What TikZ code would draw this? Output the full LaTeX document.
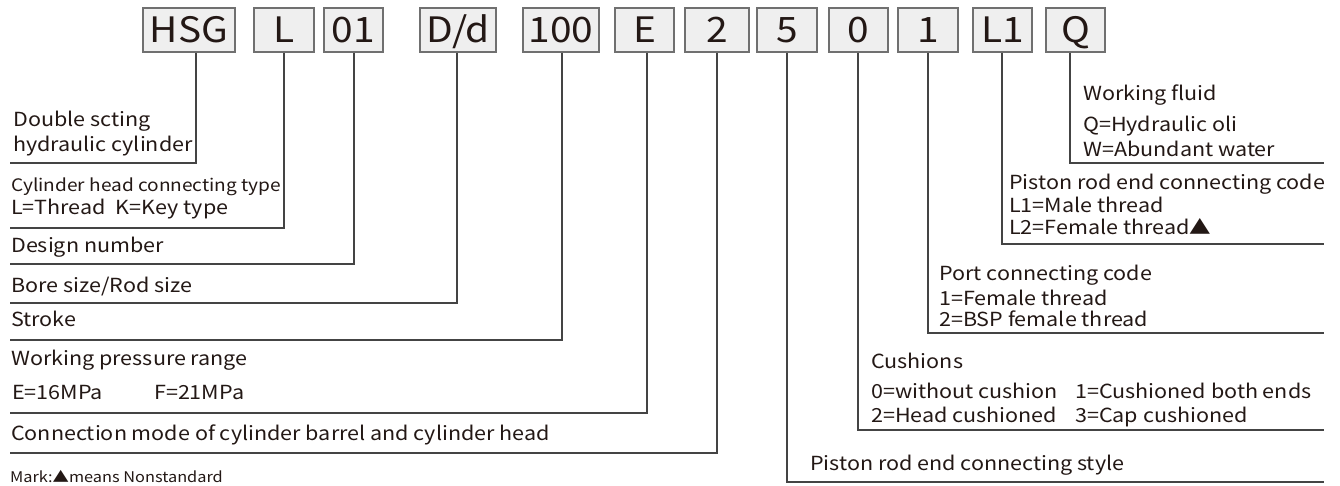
\documentclass[tikz,border=0pt]{standalone}
\usepackage{fontspec}
\setmainfont{Noto Sans CJK SC}[FakeStretch=1.11]
\definecolor{ink}{HTML}{231815}
\definecolor{rule}{HTML}{444444}
\definecolor{boxfill}{HTML}{EFEFEF}
\definecolor{boxline}{HTML}{707070}
\tikzset{
  codebox/.style={draw=boxline, fill=boxfill, line width=1.1pt, inner sep=0pt,
    minimum height=44pt, text height=25pt, text depth=0pt,
    font=\fontsize{35}{35}\selectfont, text=ink},
  lbl/.style={anchor=base west, inner sep=0pt, text=ink, font=\fontsize{19.4}{19.4}\selectfont},
  smalllbl/.style={lbl, font=\fontsize{17.2}{17.2}\selectfont},
  marklbl/.style={lbl, font=\fontsize{14.7}{14.7}\selectfont},
  bracket/.style={draw=rule, line width=1.2pt},
}
\begin{document}
\begin{tikzpicture}[x=1pt,y=-1pt]
\useasboundingbox[fill=white] (0,0) rectangle (1340,486);

% code boxes
\node[codebox, minimum width=92pt] (hsg) at (189,30) {HSG};
\node[codebox, minimum width=60pt] (bl)  at (284,30) {L};
\node[codebox, minimum width=59pt] (b01) at (353.5,30) {01};
\node[codebox, minimum width=76pt] (bdd) at (458,30) {D/d};
\node[codebox, minimum width=76pt] (b100) at (561,30) {100};
\node[codebox, minimum width=59pt] (be)  at (644.5,30) {E};
\node[codebox, minimum width=64pt] (b2)  at (717,30) {2};
\node[codebox, minimum width=60pt] (b5)  at (787,30) {5};
\node[codebox, minimum width=59pt] (b0)  at (858.5,30) {0};
\node[codebox, minimum width=60pt] (b1)  at (928,30) {1};
\node[codebox, minimum width=59pt] (bl1) at (1002.5,30) {L1};
\node[codebox, minimum width=59pt] (bq)  at (1075.5,30) {Q};

% bracket corners and ends (left group)
\coordinate (c1) at (196,163); \coordinate (e1) at (10,163);
\coordinate (c2) at (284,228); \coordinate (e2) at (10,228);
\coordinate (c3) at (354,264); \coordinate (e3) at (10,264);
\coordinate (c4) at (457,303); \coordinate (e4) at (10,303);
\coordinate (c5) at (562,340); \coordinate (e5) at (10,340);
\coordinate (c6) at (647,413); \coordinate (e6) at (10,413);
\coordinate (c7) at (717,453); \coordinate (e7) at (10,453);
% right group
\coordinate (d1) at (1070,163); \coordinate (f1) at (1324,163);
\coordinate (d2) at (1002,244); \coordinate (f2) at (1324,244);
\coordinate (d3) at (928,333);  \coordinate (f3) at (1324,333);
\coordinate (d4) at (858,430);  \coordinate (f4) at (1324,430);
\coordinate (d5) at (787,482);  \coordinate (f5) at (1324,482);

\draw[bracket] (hsg.south -| c1) -- (c1) -- (e1);
\draw[bracket] (bl.south -| c2) -- (c2) -- (e2);
\draw[bracket] (b01.south -| c3) -- (c3) -- (e3);
\draw[bracket] (bdd.south -| c4) -- (c4) -- (e4);
\draw[bracket] (b100.south -| c5) -- (c5) -- (e5);
\draw[bracket] (be.south -| c6) -- (c6) -- (e6);
\draw[bracket] (b2.south -| c7) -- (c7) -- (e7);
\draw[bracket] (bq.south -| d1) -- (d1) -- (f1);
\draw[bracket] (bl1.south -| d2) -- (d2) -- (f2);
\draw[bracket] (b1.south -| d3) -- (d3) -- (f3);
\draw[bracket] (b0.south -| d4) -- (d4) -- (f4);
\draw[bracket] (b5.south -| d5) -- (d5) -- (f5);

% left labels
\node[lbl] (t1a) at (13,127) {Double scting};
\node[lbl] (t1b) at (13,152) {hydraulic cylinder};
\node[smalllbl] (t2a) at (11,192) {Cylinder head connecting type};
\node[lbl] (t2b) at (11,215) {L=Thread\hspace*{10pt}K=Key type};
\node[lbl] (t3) at (11,253) {Design number};
\node[lbl] (t4) at (11,292) {Bore size/Rod size};
\node[lbl] (t5) at (11,326) {Stroke};
\node[lbl] (t6a) at (11,365) {Working pressure range};
\node[lbl] (t6b) at (12,399) {E=16MPa};
\node[lbl] (t6c) at (154,399) {F=21MPa};
\node[lbl] (t7) at (11,440) {Connection mode of cylinder barrel and cylinder head};
\node[marklbl] (mk) at (10,482) {Mark:▲means Nonstandard};

% right labels
\node[lbl] (r1a) at (1083,101) {Working fluid};
\node[lbl] (r1b) at (1083,132) {Q=Hydraulic oli};
\node[lbl] (r1c) at (1083,157) {W=Abundant water};
\node[lbl] (r2a) at (1009,190) {Piston rod end connecting code};
\node[lbl] (r2b) at (1009,213) {L1=Male thread};
\node[lbl] (r2c) at (1009,235) {L2=Female thread▲};
\node[lbl] (r3a) at (939,280) {Port connecting code};
\node[lbl] (r3b) at (939,305) {1=Female thread};
\node[lbl] (r3c) at (939,326) {2=BSP female thread};
\node[lbl] (r4a) at (871,368) {Cushions};
\node[lbl] (r4b) at (871,398) {0=without cushion};
\node[lbl] (r4c) at (1075,398) {1=Cushioned both ends};
\node[lbl] (r4d) at (871,422) {2=Head cushioned};
\node[lbl] (r4e) at (1075,422) {3=Cap cushioned};
\node[lbl] (r5) at (810,470) {Piston rod end connecting style};
\end{tikzpicture}
\end{document}
